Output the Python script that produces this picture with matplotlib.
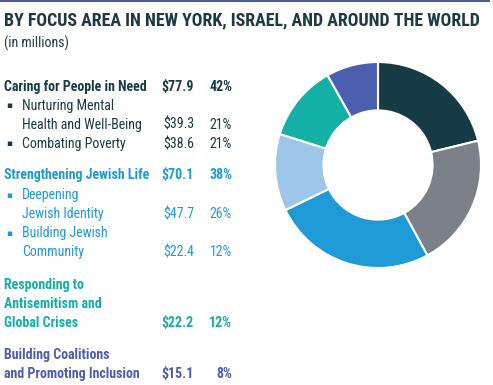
import matplotlib as mpl
mpl.use("agg")
import matplotlib.pyplot as plt

# donut data (millions), clockwise from 12 o'clock
slice_names = ["Nurturing Mental Health and Well-Being", "Combating Poverty",
               "Deepening Jewish Identity", "Building Jewish Community",
               "Responding to Antisemitism and Global Crises",
               "Building Coalitions and Promoting Inclusion"]
slice_values = [39.3, 38.6, 47.7, 22.4, 22.2, 15.1]
slice_colors = ["#163b47", "#7b8189", "#1e9bd7", "#9dc6e8", "#12b0a5", "#4c5fae"]

# table rows: (label lines, amount, percent, bold, bullet, colour)
DARK = "#163b47"
BLUE = "#1e9bd7"
TEAL = "#12b0a5"
PURPLE = "#4c5fae"
rows = [
    (["Caring for People in Need"], "$77.9", "42%", True, False, DARK),
    (["Nurturing Mental", "Health and Well-Being"], "$39.3", "21%", False, True, DARK),
    (["Combating Poverty"], "$38.6", "21%", False, True, DARK),
    (["Strengthening Jewish Life"], "$70.1", "38%", True, False, BLUE),
    (["Deepening", "Jewish Identity"], "$47.7", "26%", False, True, BLUE),
    (["Building Jewish", "Community"], "$22.4", "12%", False, True, BLUE),
    (["Responding to", "Antisemitism and", "Global Crises"], "$22.2", "12%", True, False, TEAL),
    (["Building Coalitions", "and Promoting Inclusion"], "$15.1", "8%", True, False, PURPLE),
]
row_tops = [87, 106, 144, 175, 195, 233, 285, 355]

plt.rcParams["font.family"] = ["Roboto Condensed", "Roboto", "DejaVu Sans"]

W, H = 493, 385
fig = plt.figure(figsize=(W / 100, H / 100), dpi=100)

# overlay axis in pixel coordinates for text
tax = fig.add_axes([0, 0, 1, 1])
tax.set_xlim(0, W)
tax.set_ylim(H, 0)
tax.axis("off")

tax.plot([0, 490], [1, 1], color="#4a5f92", lw=1.5, solid_capstyle="butt")
tax.text(4, 20, "BY FOCUS AREA IN NEW YORK, ISRAEL, AND AROUND THE WORLD",
         fontsize=12.9, fontweight="bold", color="#1d3a45", va="center", ha="left")
tax.text(4, 43, "(in millions)", fontsize=10, color="#1d3a45",
         va="center", ha="left")

FS = 10
line_gap = 19
for (lines, amt, pct, bold, bullet, col), top in zip(rows, row_tops):
    weight = "bold" if bold else "normal"
    x0 = 22 if bullet else 4
    for i, ln in enumerate(lines):
        tax.text(x0, top + i * line_gap, ln, fontsize=FS, fontweight=weight,
                 color=col, va="center", ha="left")
    if bullet:
        tax.text(6.5, top, "\u25aa", fontsize=6.5, color=col, va="center", ha="left",
                 family="DejaVu Sans")
    last = top + (len(lines) - 1) * line_gap
    tax.text(194, last, amt, fontsize=FS, fontweight=weight, color=col,
             va="center", ha="right")
    tax.text(232, last, pct, fontsize=FS, fontweight=weight, color=col,
             va="center", ha="right")

# donut
cx, cy, r = 378, 165, 103
pax = fig.add_axes([(cx - r) / W, (H - cy - r) / H, 2 * r / W, 2 * r / H])
pax.pie(slice_values, colors=slice_colors, startangle=90, counterclock=False,
        radius=1, wedgeprops=dict(width=0.47, edgecolor="white", linewidth=1.5))
pax.set_xlim(-1, 1)
pax.set_ylim(-1, 1)
pax.set_aspect("equal")

fig.savefig("out.png", dpi=100)
